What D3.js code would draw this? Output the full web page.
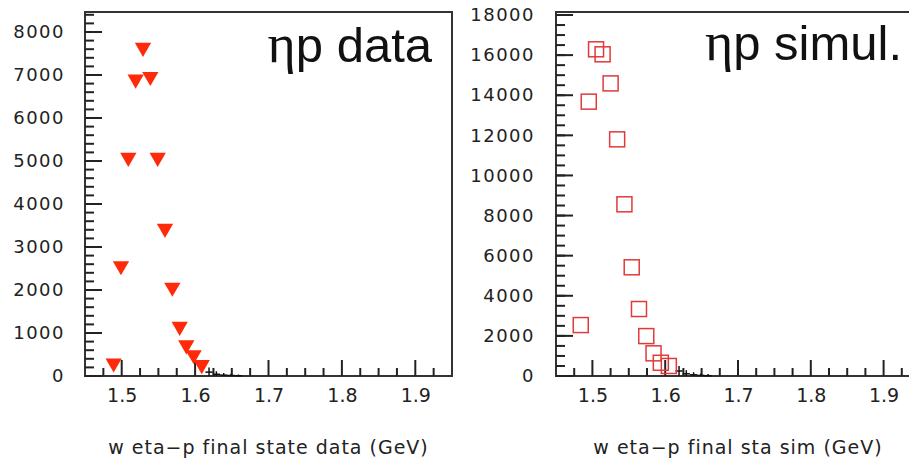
<!DOCTYPE html>
<html>
<head>
<meta charset="utf-8">
<script src="https://cdn.jsdelivr.net/npm/d3@7"></script>
<style>
  body { margin: 0; background: #fff; }
  .tick text { font-family: "DejaVu Sans", sans-serif; fill: #222; }
</style>
</head>
<body>
<div id="chart"></div>
<script>
//----------------------------------//
// data
var dataMass = [1.489, 1.499, 1.509, 1.519, 1.529, 1.539, 1.549, 1.559, 1.569, 1.579, 1.588, 1.598, 1.609];
var dataCounts = [300, 2560, 5080, 6900, 7640, 6960, 5080, 3430, 2060, 1150, 720, 490, 260];

var simMass = [1.484, 1.495, 1.505, 1.514, 1.525, 1.534, 1.544, 1.554, 1.564, 1.574, 1.584, 1.594, 1.605];
var simCounts = [2540, 13680, 16290, 16040, 14590, 11800, 8560, 5420, 3340, 1990, 1130, 660, 500];

// small black error-bar crosses on the tail
var tailMass = [1.619, 1.629, 1.639, 1.649, 1.659];
var dataTail = [90, 40, 20, 12, 5];
var dataTailErr = [110, 70, 50, 40, 30];
var simTail = [250, 110, 60, 30, 15];
var simTailErr = [250, 180, 130, 100, 80];

var xMajor = [1.5, 1.6, 1.7, 1.8, 1.9];
var dataYMajor = [0, 1000, 2000, 3000, 4000, 5000, 6000, 7000, 8000];
var simYMajor = [0, 2000, 4000, 6000, 8000, 10000, 12000, 14000, 16000, 18000];

var svgWidth = 909;
var svgHeight = 462;

var svg = d3.select("#chart")
  .append("svg")
  .attr("width", svgWidth)
  .attr("height", svgHeight);

// minor ticks every 0.025 on x
var xMinor = d3.range(1.475, 1.95, 0.025).filter(function(v) {
  return xMajor.every(function(m) { return Math.abs(m - v) > 0.001; });
});

function drawPanel(p) {
  var x = d3.scaleLinear().domain([1.45, 1.95]).range([p.left, p.right]);
  var y = d3.scaleLinear().domain([0, p.yTop]).range([p.bottom, p.top]);

  var g = svg.append("g");

  // y labels
  g.append("g")
    .attr("transform", `translate(${p.left},0)`)
    .call(d3.axisLeft(y).tickValues(p.yMajor).tickSize(0).tickPadding(p.labelPad).tickFormat(d3.format("d")))
    .call(s => s.select(".domain").remove())
    .selectAll("text")
    .style("font-size", "18px")
    .style("letter-spacing", "1.5px");

  // x labels
  g.append("g")
    .attr("transform", `translate(0,${p.bottom})`)
    .call(d3.axisBottom(x).tickValues(xMajor).tickSize(0).tickPadding(13).tickFormat(d3.format(".1f")))
    .call(s => s.select(".domain").remove())
    .selectAll("text")
    .style("font-size", "19px");

  // frame
  g.append("rect")
    .attr("x", p.left)
    .attr("y", p.top)
    .attr("width", p.right - p.left)
    .attr("height", p.bottom - p.top)
    .attr("fill", "none")
    .attr("stroke", "#333")
    .attr("stroke-width", 2);

  // ticks pointing inward (y ticks to the right, x ticks upward)
  var tickG = g.append("g").attr("stroke", "#222").attr("stroke-width", 2);
  tickG.selectAll("line.ymin")
    .data(p.yMinor)
    .enter()
    .append("line")
    .attr("class", "ymin")
    .attr("x1", p.left).attr("x2", p.left + 9)
    .attr("y1", d => y(d)).attr("y2", d => y(d));
  tickG.selectAll("line.ymaj")
    .data(p.yMajor)
    .enter()
    .append("line")
    .attr("class", "ymaj")
    .attr("x1", p.left).attr("x2", p.left + 17)
    .attr("y1", d => y(d)).attr("y2", d => y(d));
  tickG.selectAll("line.xmin")
    .data(xMinor)
    .enter()
    .append("line")
    .attr("class", "xmin")
    .attr("x1", d => x(d)).attr("x2", d => x(d))
    .attr("y1", p.bottom).attr("y2", p.bottom - 8);
  tickG.selectAll("line.xmaj")
    .data(xMajor)
    .enter()
    .append("line")
    .attr("class", "xmaj")
    .attr("x1", d => x(d)).attr("x2", d => x(d))
    .attr("y1", p.bottom).attr("y2", p.bottom - 16);

  // tail crosses
  var tail = g.append("g").attr("stroke", "#111").attr("stroke-width", 1.5);
  tailMass.forEach(function(m, i) {
    tail.append("line")
      .attr("x1", x(m - 0.005)).attr("x2", x(m + 0.005))
      .attr("y1", y(p.tail[i])).attr("y2", y(p.tail[i]));
    tail.append("line")
      .attr("x1", x(m)).attr("x2", x(m))
      .attr("y1", y(Math.max(0, p.tail[i] - p.tailErr[i]))).attr("y2", y(p.tail[i] + p.tailErr[i]));
  });

  // markers
  if (p.marker === "triangle") {
    g.selectAll("path.mark")
      .data(p.mass)
      .enter()
      .append("path")
      .attr("class", "mark")
      .attr("d", d3.symbol(d3.symbolTriangle, 115))
      .attr("transform", (d, i) => `translate(${x(d)},${y(p.counts[i])}) rotate(180)`)
      .attr("fill", "#ff2a0a");
  } else {
    g.selectAll("rect.mark")
      .data(p.mass)
      .enter()
      .append("rect")
      .attr("class", "mark")
      .attr("x", d => x(d) - 7.5)
      .attr("y", (d, i) => y(p.counts[i]) - 7.5)
      .attr("width", 15)
      .attr("height", 15)
      .attr("fill", "none")
      .attr("stroke", "#e03a3a")
      .attr("stroke-width", 1.5);
  }

  // big label
  var lab = g.append("text")
    .attr("x", p.labelX)
    .attr("y", p.labelY)
    .attr("text-anchor", "end")
    .style("font-size", "49px")
    .style("fill", "#111");
  lab.append("tspan").style("font-family", "'Liberation Serif', serif").style("font-size", "54px").text("η");
  lab.append("tspan").style("font-family", "'Liberation Sans', Arial, sans-serif").text(p.label);

  // axis title
  g.append("text")
    .attr("x", (p.left + p.right) / 2)
    .attr("y", 454)
    .attr("text-anchor", "middle")
    .style("font-family", "'DejaVu Sans', sans-serif")
    .style("font-size", "19px")
    .style("letter-spacing", "1px")
    .style("fill", "#222")
    .text(p.title);
}

drawPanel({
  left: 85, right: 452, top: 12, bottom: 376, yTop: 8465,
  yMajor: dataYMajor, yMinor: d3.range(200, 8465, 200),
  labelPad: 20,
  mass: dataMass, counts: dataCounts, tail: dataTail, tailErr: dataTailErr,
  marker: "triangle",
  label: "p data", labelX: 432, labelY: 62,
  title: "w eta−p final state data (GeV)"
});

drawPanel({
  left: 556, right: 920, top: 12, bottom: 376, yTop: 18150,
  yMajor: simYMajor, yMinor: d3.range(500, 18150, 500),
  labelPad: 21,
  mass: simMass, counts: simCounts, tail: simTail, tailErr: simTailErr,
  marker: "square",
  label: "p simul.", labelX: 902, labelY: 60,
  title: "w eta−p final sta sim (GeV)"
});
</script>
</body>
</html>
